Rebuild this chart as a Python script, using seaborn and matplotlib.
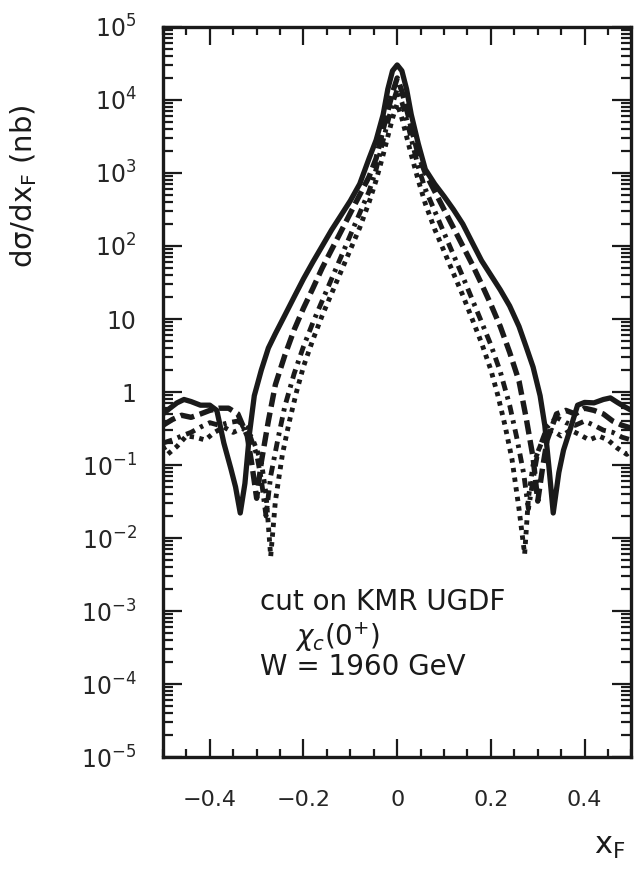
import numpy as np
import pandas as pd
import matplotlib
matplotlib.use("Agg")
import matplotlib.pyplot as plt
import matplotlib.ticker as mticker
import seaborn as sns

# ---------------- data ----------------
x_solid = [-0.50, -0.485, -0.47, -0.455, -0.44, -0.42, -0.40, -0.385, -0.37, -0.355, -0.345, -0.335,
           -0.325, -0.315, -0.305, -0.29, -0.275, -0.26, -0.24, -0.22, -0.20, -0.18, -0.16, -0.14,
           -0.12, -0.10, -0.08, -0.06, -0.045, -0.03, -0.02, -0.01, 0.0,
           0.01, 0.02, 0.03, 0.045, 0.06, 0.08, 0.10, 0.12, 0.14, 0.16, 0.18, 0.20, 0.22, 0.24,
           0.26, 0.275, 0.29, 0.305, 0.315, 0.325, 0.333, 0.345, 0.355, 0.37, 0.385, 0.40, 0.42,
           0.44, 0.455, 0.47, 0.485, 0.50]
y_solid = [0.50, 0.60, 0.71, 0.79, 0.74, 0.66, 0.66, 0.56, 0.20, 0.089, 0.050, 0.022,
           0.056, 0.28, 0.89, 2.0, 4.0, 6.3, 11.2, 20.0, 35.5, 60.3, 100, 166,
           263, 417, 708, 1585, 2818, 6310, 14100, 25100, 30200,
           25100, 14100, 6310, 2512, 1122, 708, 479, 316, 200, 112, 63.1, 39.8, 25.1, 15.1,
           7.9, 4.2, 2.2, 0.89, 0.35, 0.079, 0.022, 0.079, 0.16, 0.32, 0.66, 0.72, 0.71,
           0.79, 0.83, 0.72, 0.63, 0.56]

x_dash = [-0.50, -0.48, -0.46, -0.44, -0.42, -0.40, -0.38, -0.36, -0.34, -0.32, -0.31, -0.30,
          -0.29, -0.275, -0.26, -0.24, -0.22, -0.20, -0.18, -0.16, -0.14, -0.12, -0.10, -0.08,
          -0.06, -0.045, -0.03, -0.02, -0.01, 0.0,
          0.01, 0.02, 0.03, 0.045, 0.06, 0.08, 0.10, 0.12, 0.14, 0.16, 0.18, 0.20, 0.22, 0.24,
          0.26, 0.275, 0.29, 0.30, 0.31, 0.32, 0.34, 0.36, 0.38, 0.40, 0.42, 0.44, 0.46, 0.48, 0.50]
y_dash = [0.35, 0.42, 0.48, 0.45, 0.50, 0.56, 0.60, 0.60, 0.50, 0.25, 0.10, 0.035,
          0.11, 0.40, 1.26, 3.16, 7.1, 14.1, 26.3, 50.1, 89.1, 158, 282, 501,
          891, 1585, 3981, 7079, 12600, 20000,
          13200, 7586, 4169, 1778, 1000, 562, 316, 178, 100, 56.2, 30.2, 15.8, 7.9, 3.5,
          1.41, 0.45, 0.126, 0.032, 0.089, 0.22, 0.50, 0.56, 0.50, 0.60, 0.56, 0.50, 0.40, 0.35, 0.32]

x_dashdot = [-0.50, -0.48, -0.46, -0.44, -0.42, -0.40, -0.38, -0.36, -0.34, -0.32, -0.30, -0.29,
             -0.28, -0.27, -0.255, -0.24, -0.22, -0.20, -0.18, -0.16, -0.14, -0.12, -0.10, -0.08,
             -0.06, -0.045, -0.03, -0.02, -0.01, 0.0,
             0.01, 0.02, 0.03, 0.045, 0.06, 0.08, 0.10, 0.12, 0.14, 0.16, 0.18, 0.20, 0.22, 0.24,
             0.255, 0.27, 0.28, 0.29, 0.30, 0.32, 0.34, 0.36, 0.38, 0.40, 0.42, 0.44, 0.46, 0.48, 0.50]
y_dashdot = [0.20, 0.22, 0.25, 0.28, 0.33, 0.38, 0.35, 0.38, 0.40, 0.32, 0.14, 0.063,
             0.020, 0.071, 0.22, 0.63, 1.78, 4.2, 8.9, 17.8, 35.5, 70.8, 141, 282,
             562, 1122, 2818, 5012, 8913, 14100,
             9333, 5370, 2951, 1202, 603, 302, 151, 75.9, 38.0, 18.6, 9.1, 4.4, 1.9, 0.66,
             0.24, 0.076, 0.025, 0.063, 0.15, 0.33, 0.45, 0.38, 0.35, 0.40, 0.35, 0.30, 0.28, 0.24, 0.22]

x_dot = [-0.50, -0.49, -0.47, -0.45, -0.43, -0.41, -0.39, -0.37, -0.35, -0.33, -0.31, -0.29,
         -0.28, -0.27, -0.26, -0.245, -0.23, -0.215, -0.20, -0.18, -0.16, -0.14, -0.12, -0.10,
         -0.08, -0.06, -0.045, -0.03, -0.02, -0.01, 0.0,
         0.01, 0.02, 0.03, 0.045, 0.06, 0.08, 0.10, 0.12, 0.14, 0.16, 0.18, 0.20, 0.215, 0.23,
         0.245, 0.26, 0.272, 0.28, 0.29, 0.31, 0.33, 0.35, 0.37, 0.39, 0.41, 0.43, 0.45, 0.47, 0.49, 0.50]
y_dot = [0.18, 0.14, 0.18, 0.25, 0.24, 0.22, 0.28, 0.33, 0.28, 0.32, 0.24, 0.11,
         0.040, 0.0056, 0.032, 0.14, 0.40, 1.0, 2.24, 5.2, 11.2, 22.4, 44.7, 89.1,
         178, 398, 794, 1778, 3162, 5623, 8900,
         5623, 3162, 1778, 794, 380, 170, 85, 42.2, 21.1, 10.0, 4.7, 2.0, 0.89, 0.35,
         0.12, 0.025, 0.0060, 0.035, 0.10, 0.22, 0.30, 0.25, 0.30, 0.26, 0.22, 0.25, 0.22, 0.17, 0.14, 0.16]

ytick_vals = [1e-5, 1e-4, 1e-3, 1e-2, 1e-1, 1, 10, 1e2, 1e3, 1e4, 1e5]
ytick_labels = ["10$^{-5}$", "10$^{-4}$", "10$^{-3}$", "10$^{-2}$", "10$^{-1}$", "1", "10",
                "10$^{2}$", "10$^{3}$", "10$^{4}$", "10$^{5}$"]
xtick_vals = [-0.4, -0.2, 0.0, 0.2, 0.4]
xtick_labels = ["\u22120.4", "\u22120.2", "0", "0.2", "0.4"]

# ---------------- styling ----------------
sns.set_style("ticks")
plt.rcParams["font.family"] = ["DejaVu Sans"]
plt.rcParams["mathtext.fontset"] = "dejavusans"

fig = plt.figure(figsize=(6.34, 8.82), dpi=100)
ax = fig.add_axes([0.257, 0.1417, 0.739, 0.8277])

ink = "#1a1a1a"
curves = [
    (x_solid, y_solid, "-", 3.8),
    (x_dash, y_dash, (0, (2.6, 1.1)), 3.9),
    (x_dashdot, y_dashdot, (0, (2.0, 1.2, 0.7, 1.2)), 3.5),
    (x_dot, y_dot, (0, (0.9, 1.1)), 3.5),
]
for xs, ys, ls, lw in curves:
    df = pd.DataFrame({"x": xs, "y": ys})
    sns.lineplot(data=df, x="x", y="y", ax=ax, color=ink, linewidth=lw,
                 linestyle=ls, sort=False, estimator=None)
    ln = ax.lines[-1]
    ln.set_dash_capstyle("butt")
    ln.set_solid_joinstyle("round")

ax.set_yscale("log")
ax.set_ylim(1e-5, 1e5)
ax.set_xlim(-0.5, 0.5)

ax.set_yticks(ytick_vals)
ax.set_yticklabels(ytick_labels)
ax.yaxis.set_minor_locator(mticker.LogLocator(base=10, subs=np.arange(2, 10), numticks=100))
ax.yaxis.set_minor_formatter(mticker.NullFormatter())
ax.set_xticks(xtick_vals)
ax.set_xticklabels(xtick_labels)
ax.xaxis.set_minor_locator(mticker.MultipleLocator(0.05))

for s in ax.spines.values():
    s.set_linewidth(2.4)
    s.set_color(ink)

ax.tick_params(axis="both", which="both", direction="in", top=True, right=True,
               color=ink, width=1.6)
ax.tick_params(axis="y", which="major", length=14, labelsize=17, pad=19)
ax.tick_params(axis="y", which="minor", length=7)
ax.tick_params(axis="x", which="major", length=13, labelsize=16, pad=24)
ax.tick_params(axis="x", which="minor", length=6)

ax.set_xlabel("")
ax.set_ylabel("")

fig.text(0.038, 0.789, "d\u03c3/dx$_{\\mathregular{F}}$ (nb)", rotation=90,
         ha="center", va="center", fontsize=21, color=ink)
fig.text(0.962, 0.040, "x$_{\\mathregular{F}}$", ha="center", va="center",
         fontsize=22, color=ink)

tfont = ["DejaVu Sans"]
ax.text(0.208, 0.212, "cut on KMR UGDF", transform=ax.transAxes, ha="left",
        va="center", fontsize=20, family=tfont, color=ink)
ax.text(0.282, 0.164, "$\\chi_c$(0$^{+}$)", transform=ax.transAxes, ha="left",
        va="center", fontsize=20, family=tfont, color=ink)
ax.text(0.208, 0.123, "W = 1960 GeV", transform=ax.transAxes, ha="left",
        va="center", fontsize=20, family=tfont, color=ink)

fig.savefig("out.png", dpi=100)
